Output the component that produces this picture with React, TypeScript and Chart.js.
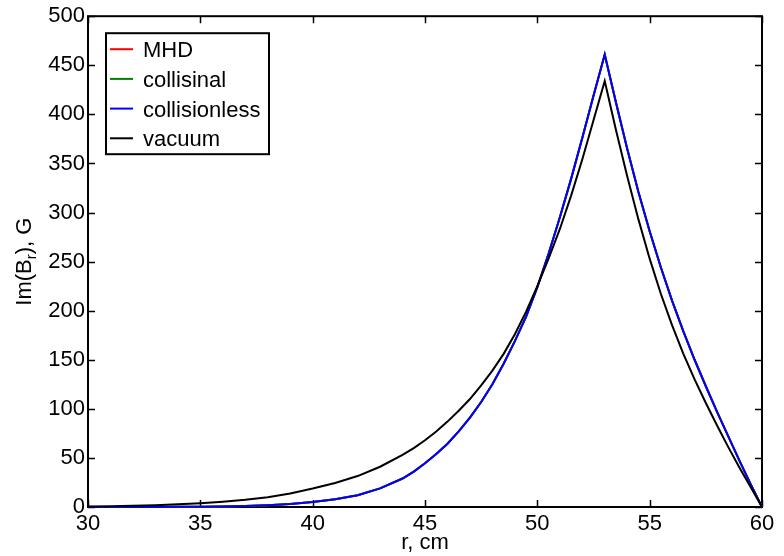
import React, { useEffect, useRef } from "react";
import { Chart, registerables } from "chart.js";

Chart.register(...registerables);

// radius, cm
const rValues = [
  30, 31, 32, 33, 34, 35, 36, 37, 38, 39, 40, 41, 42, 43, 44, 44.5, 45, 45.5, 46, 46.5,
  47, 47.5, 48, 48.5, 49, 49.5, 50, 50.5, 51, 51.5, 52, 52.5, 53, 53.5, 54, 54.5, 55,
  55.5, 56, 56.5, 57, 57.5, 58, 58.5, 59, 59.5, 60,
];

// Im(B_r), G
const collisionless = [
  0, 0.02, 0.05, 0.1, 0.2, 0.35, 0.6, 1.0, 1.8, 3.0, 5.0, 7.8, 12, 19, 29, 36, 44.5, 54, 64.5, 77,
  91, 107, 125, 146, 169, 194, 224, 258, 295, 334, 376, 419, 461, 412, 365, 321, 281,
  244, 210, 179, 150, 123, 97, 72, 47, 23, 0,
];
const mhd = [...collisionless];
const collisional = [...collisionless];
const vacuum = [
  0.5, 0.8, 1.2, 1.8, 2.7, 3.8, 5.3, 7.3, 10, 13.8, 18.8, 24.5, 31.5, 41, 53, 60, 68, 77, 87, 98,
  110, 124, 139, 156, 176, 199, 225, 253, 283, 317, 354, 394, 434, 384, 337, 293, 253,
  217, 185, 156, 130, 106, 83, 61, 40, 20, 0,
];

const seriesNames = ["MHD", "collisinal", "collisionless", "vacuum"];
const seriesColors = ["#ff0000", "#008000", "#0000ff", "#000000"];
const seriesValues = [mhd, collisional, collisionless, vacuum];

const xTitle = "r, cm";
const yTitleParts = ["Im(B", "r", "), G"];

const FONT = "'Liberation Sans', Arial, Helvetica, sans-serif";

const framePlugin = {
  id: "matlabFrame",
  beforeDatasetsDraw(chart: any) {
    const { ctx, chartArea: a, scales } = chart;
    ctx.save();
    ctx.strokeStyle = "#000";
    ctx.lineWidth = 2;
    ctx.strokeRect(a.left, a.top, a.right - a.left, a.bottom - a.top);
    const L = 7;
    ctx.lineWidth = 1.5;
    ctx.beginPath();
    for (const t of scales.x.ticks) {
      const px = Math.round(scales.x.getPixelForValue(t.value)) + 0.5;
      ctx.moveTo(px, a.bottom);
      ctx.lineTo(px, a.bottom - L);
      ctx.moveTo(px, a.top);
      ctx.lineTo(px, a.top + L);
    }
    for (const t of scales.y.ticks) {
      const py = Math.round(scales.y.getPixelForValue(t.value)) + 0.5;
      ctx.moveTo(a.left, py);
      ctx.lineTo(a.left + L, py);
      ctx.moveTo(a.right, py);
      ctx.lineTo(a.right - L, py);
    }
    ctx.stroke();
    ctx.restore();
  },
  afterDraw(chart: any) {
    const { ctx, chartArea: a } = chart;
    ctx.save();
    ctx.fillStyle = "#000";
    // x title
    ctx.font = `22px ${FONT}`;
    ctx.textAlign = "center";
    ctx.textBaseline = "alphabetic";
    ctx.fillText(xTitle, (a.left + a.right) / 2, 549);

    // y title with subscript
    ctx.save();
    const cy = (a.top + a.bottom) / 2;
    ctx.translate(31, cy);
    ctx.rotate(-Math.PI / 2);
    ctx.textAlign = "left";
    const big = `22px ${FONT}`;
    const small = `15px ${FONT}`;
    ctx.font = big;
    const w0 = ctx.measureText(yTitleParts[0]).width;
    const w2 = ctx.measureText(yTitleParts[2]).width;
    ctx.font = small;
    const w1 = ctx.measureText(yTitleParts[1]).width;
    let x = -(w0 + w1 + w2) / 2;
    ctx.font = big;
    ctx.fillText(yTitleParts[0], x, 0);
    x += w0;
    ctx.font = small;
    ctx.fillText(yTitleParts[1], x, 5);
    x += w1;
    ctx.font = big;
    ctx.fillText(yTitleParts[2], x, 0);
    ctx.restore();

    // legend
    const lx = a.left + 18;
    const ly = a.top + 17;
    const lw = 163;
    const lh = 121;
    ctx.fillStyle = "#fff";
    ctx.fillRect(lx, ly, lw, lh);
    ctx.strokeStyle = "#000";
    ctx.lineWidth = 2;
    ctx.strokeRect(lx, ly, lw, lh);
    ctx.font = `22px ${FONT}`;
    ctx.textAlign = "left";
    ctx.textBaseline = "alphabetic";
    seriesNames.forEach((name, i) => {
      const rowY = ly + 16 + i * 29.7;
      ctx.strokeStyle = seriesColors[i];
      ctx.lineWidth = 2;
      ctx.beginPath();
      ctx.moveTo(lx + 4, rowY);
      ctx.lineTo(lx + 27, rowY);
      ctx.stroke();
      ctx.fillStyle = "#000";
      ctx.fillText(name, lx + 37, rowY + 8);
    });
    ctx.restore();
  },
};

export default function App() {
  const canvasRef = useRef<HTMLCanvasElement | null>(null);

  useEffect(() => {
    const canvas = canvasRef.current;
    if (!canvas) return;
    const drawOrder = [3, 2, 1, 0];
    const chart = new Chart(canvas, {
      type: "line",
      data: {
        datasets: seriesNames.map((name, i) => ({
          label: name,
          data: rValues.map((r, j) => ({ x: r, y: seriesValues[i][j] })),
          borderColor: seriesColors[i],
          backgroundColor: seriesColors[i],
          borderWidth: 2,
          pointRadius: 0,
          tension: 0,
          fill: false,
          clip: false as any,
          order: drawOrder[i],
        })),
      },
      options: {
        animation: false,
        responsive: false,
        devicePixelRatio: 1,
        events: [],
        layout: { padding: { top: 15, right: 22, left: 0, bottom: 0 } },
        plugins: {
          legend: { display: false },
          tooltip: { enabled: false },
          title: { display: false },
        },
        scales: {
          x: {
            type: "linear",
            min: 30,
            max: 60,
            grid: { display: false, drawTicks: false },
            border: { display: false },
            ticks: {
              stepSize: 5,
              color: "#000",
              font: { family: FONT, size: 22 },
              padding: 4,
              maxRotation: 0,
              autoSkip: false,
            },
            afterFit: (scale: any) => {
              scale.height = 49;
            },
          },
          y: {
            type: "linear",
            min: 0,
            max: 500,
            grid: { display: false, drawTicks: false },
            border: { display: false },
            ticks: {
              stepSize: 50,
              color: "#000",
              font: { family: FONT, size: 22 },
              padding: 3,
              autoSkip: false,
            },
            afterFit: (scale: any) => {
              scale.width = 88;
            },
          },
        },
      },
      plugins: [framePlugin],
    });
    return () => chart.destroy();
  }, []);

  return (
    <div style={{ position: "absolute", left: 0, top: 0, width: 784, height: 556, background: "#fff" }}>
      <canvas ref={canvasRef} width={784} height={556} />
    </div>
  );
}
